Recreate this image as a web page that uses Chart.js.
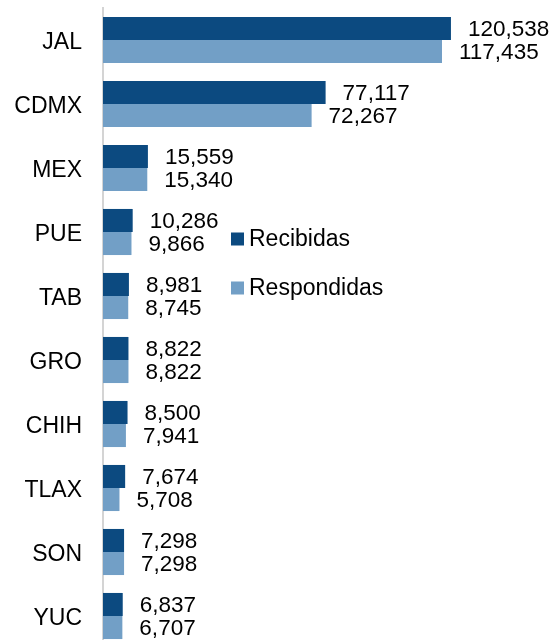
<!DOCTYPE html>
<html>
<head>
<meta charset="utf-8">
<script src="https://cdn.jsdelivr.net/npm/chart.js@4"></script>
<style>
  html, body { margin: 0; padding: 0; background: #fff; overflow: hidden; }
</style>
</head>
<body>
<canvas id="stateChart" width="555" height="650"></canvas>
<script>
// Data
const categories = ["JAL", "CDMX", "MEX", "PUE", "TAB", "GRO", "CHIH", "TLAX", "SON", "YUC"];
const recibidas = [120538, 77117, 15559, 10286, 8981, 8822, 8500, 7674, 7298, 6837];
const respondidas = [117435, 72267, 15340, 9866, 8745, 8822, 7941, 5708, 7298, 6707];
const seriesNames = ["Recibidas", "Respondidas"];

const FAMILY = '"Liberation Sans", Arial, sans-serif';
const FONT = "23px " + FAMILY;

// value labels at the end of every bar
const barLabels = {
  id: "barLabels",
  afterDatasetsDraw(chart) {
    const ctx = chart.ctx;
    ctx.save();
    ctx.font = "22.5px " + FAMILY;
    ctx.fillStyle = "#000";
    ctx.textAlign = "left";
    ctx.textBaseline = "middle";
    chart.data.datasets.forEach((ds, i) => {
      chart.getDatasetMeta(i).data.forEach((bar, j) => {
        ctx.fillText(ds.data[j].toLocaleString("en-US"), bar.x + 17, bar.y + 1);
      });
    });
    ctx.restore();
  },
};

// legend sitting in the middle of the plot
const midLegend = {
  id: "midLegend",
  afterDraw(chart) {
    const ctx = chart.ctx;
    ctx.save();
    ctx.font = FONT;
    ctx.textBaseline = "middle";
    chart.data.datasets.forEach((ds, i) => {
      const y = 239 + i * 49;
      ctx.fillStyle = ds.backgroundColor;
      ctx.fillRect(231, y - 6.5, 13, 13);
      ctx.fillStyle = "#000";
      ctx.fillText(ds.label, 249, y + 1);
    });
    ctx.restore();
  },
};

const ctx = document.getElementById("stateChart").getContext("2d");

new Chart(ctx, {
  type: "bar",
  data: {
    labels: categories,
    datasets: [
      {
        label: seriesNames[0],
        data: recibidas,
        backgroundColor: "#0c4a80",
        barPercentage: 1,
        categoryPercentage: 0.72,
      },
      {
        label: seriesNames[1],
        data: respondidas,
        backgroundColor: "#729fc6",
        barPercentage: 1,
        categoryPercentage: 0.72,
      },
    ],
  },
  options: {
    indexAxis: "y",
    responsive: false,
    animation: false,
    layout: { padding: { top: 8, right: 19, bottom: 2, left: 0 } },
    plugins: {
      legend: { display: false },
      tooltip: { enabled: false },
    },
    scales: {
      x: {
        display: false,
        min: 0,
        max: 150000,
      },
      y: {
        afterFit(scale) {
          scale.width = 103;
          scale.paddingTop = 0;
          scale.paddingBottom = 0;
        },
        grid: { display: false, drawTicks: false, tickLength: 0 },
        border: { display: true, color: "#d4d4d4", width: 2 },
        ticks: {
          padding: 21,
          labelOffset: 3,
          color: "#000",
          font: { family: FAMILY, size: 23 },
        },
      },
    },
  },
  plugins: [barLabels, midLegend],
});
</script>
</body>
</html>
